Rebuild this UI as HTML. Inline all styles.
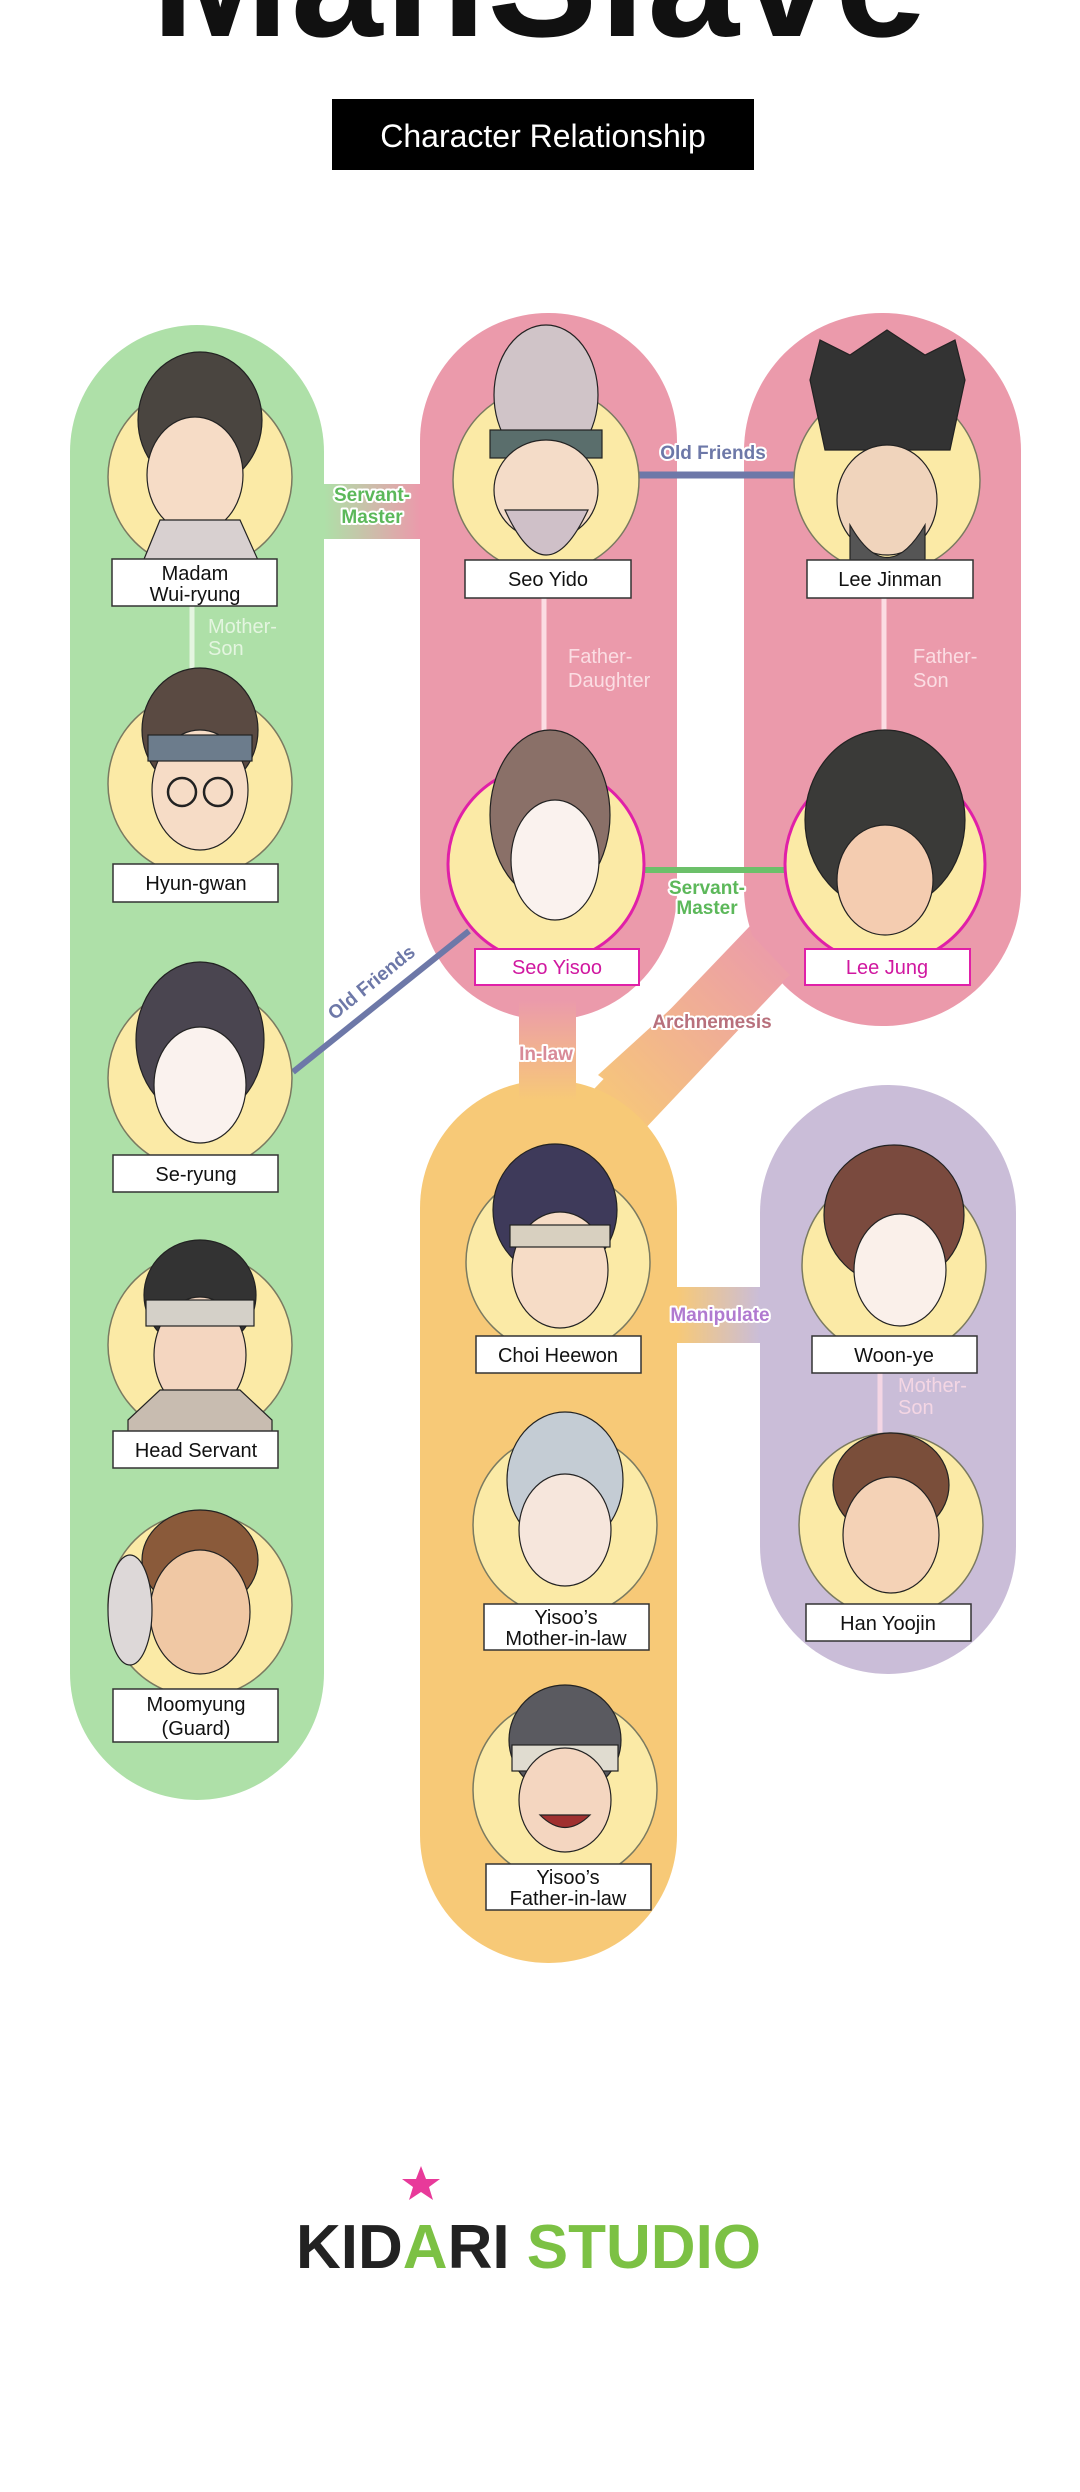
<!DOCTYPE html>
<html><head><meta charset="utf-8"><style>
html,body{margin:0;padding:0;background:#fff;width:1080px;height:2492px;overflow:hidden}
svg{display:block}
.t{font-family:"Liberation Sans",sans-serif}
.lb{font-family:"Liberation Sans",sans-serif;font-size:20px;fill:#111;text-anchor:middle}
.rel{font-family:"Liberation Sans",sans-serif;font-size:19px;font-weight:bold;text-anchor:middle;paint-order:stroke;stroke:#fff;stroke-width:4px;stroke-linejoin:round}
.pale{font-family:"Liberation Sans",sans-serif;font-size:20px}
</style></head><body>
<svg width="1080" height="2492" viewBox="0 0 1080 2492" xmlns="http://www.w3.org/2000/svg">
<defs>
<linearGradient id="gp" x1="0" x2="1"><stop offset="0" stop-color="#aee0a8"/><stop offset="1" stop-color="#eb9aab"/></linearGradient>
<linearGradient id="op" x1="0" x2="1"><stop offset="0" stop-color="#f7c977"/><stop offset="1" stop-color="#cabdd8"/></linearGradient>
<linearGradient id="po" x1="0" y1="0" x2="0" y2="1"><stop offset="0" stop-color="#eb9aab"/><stop offset="1" stop-color="#f7c977"/></linearGradient>
<linearGradient id="arch" gradientUnits="userSpaceOnUse" x1="780" y1="940" x2="600" y2="1120"><stop offset="0" stop-color="#eb9aab"/><stop offset="1" stop-color="#f7c977"/></linearGradient>
</defs>

<!-- title -->
<text x="540" y="36" class="t" font-size="165" font-weight="bold" text-anchor="middle" fill="#111" letter-spacing="2">ManSlave</text>
<rect x="332" y="99" width="422" height="71" fill="#000"/>
<text x="543" y="147" class="t" font-size="32" fill="#fff" text-anchor="middle">Character Relationship</text>

<!-- connectors under capsules -->
<polygon points="770,905 812,952 625,1150 572,1112" fill="url(#arch)"/>
<rect x="519" y="990" width="57" height="110" fill="url(#po)"/>
<rect x="300" y="484" width="140" height="55" fill="url(#gp)"/>
<rect x="660" y="1287" width="120" height="56" fill="url(#op)"/>

<!-- capsules -->
<rect x="70" y="325" width="254" height="1475" rx="127" fill="#aee0a8"/>
<rect x="420" y="313" width="257" height="707" rx="128" fill="#eb9aab"/>
<rect x="744" y="313" width="277" height="713" rx="138" fill="#eb9aab"/>
<rect x="420" y="1080" width="257" height="883" rx="128" fill="#f7c977"/>
<rect x="760" y="1085" width="256" height="589" rx="128" fill="#cabdd8"/>
<rect x="519" y="1000" width="57" height="100" fill="url(#po)"/>
<polygon points="752,935 790,975 640,1105 598,1075" fill="url(#arch)"/>
<rect x="677" y="1287" width="83" height="56" fill="url(#op)"/>
<rect x="324" y="484" width="96" height="55" fill="url(#gp)"/>

<!-- relation lines -->
<line x1="192" y1="606" x2="192" y2="700" stroke="#e4f5e0" stroke-width="5"/>
<line x1="544" y1="598" x2="544" y2="770" stroke="#fbdde3" stroke-width="5"/>
<line x1="884" y1="598" x2="884" y2="770" stroke="#fbdde3" stroke-width="5"/>
<line x1="880" y1="1373" x2="880" y2="1440" stroke="#f4d6e4" stroke-width="5"/>
<line x1="630" y1="475" x2="800" y2="475" stroke="#6d78a8" stroke-width="7"/>
<line x1="645" y1="870" x2="790" y2="870" stroke="#6cc06a" stroke-width="6"/>
<line x1="293" y1="1072" x2="469" y2="931" stroke="#6d78a8" stroke-width="6"/>

<!-- portraits -->
<g stroke="#7a7a60" stroke-width="1.5">
 <circle cx="200" cy="477" r="92" fill="#fbeaa6"/>
 <circle cx="200" cy="784" r="92" fill="#fbeaa6"/>
 <circle cx="200" cy="1078" r="92" fill="#fbeaa6"/>
 <circle cx="200" cy="1345" r="92" fill="#fbeaa6"/>
 <circle cx="200" cy="1605" r="92" fill="#fbeaa6"/>
 <circle cx="546" cy="480" r="93" fill="#fbeaa6"/>
 <circle cx="887" cy="480" r="93" fill="#fbeaa6"/>
 <circle cx="558" cy="1262" r="92" fill="#fbeaa6"/>
 <circle cx="565" cy="1525" r="92" fill="#fbeaa6"/>
 <circle cx="565" cy="1790" r="92" fill="#fbeaa6"/>
 <circle cx="894" cy="1265" r="92" fill="#fbeaa6"/>
 <circle cx="891" cy="1525" r="92" fill="#fbeaa6"/>
</g>
<circle cx="546" cy="864" r="98" fill="#fbeaa6" stroke="#e020a8" stroke-width="3"/>
<circle cx="885" cy="864" r="100" fill="#fbeaa6" stroke="#e020a8" stroke-width="3"/>

<g stroke="#222" stroke-width="1.2">
 <ellipse cx="200" cy="420" rx="62" ry="68" fill="#4a4540"/>
 <ellipse cx="195" cy="475" rx="48" ry="58" fill="#f6dcc6"/>
 <path d="M140 569 L160 520 L240 520 L262 569 Z" fill="#d8d0d0"/>
 <ellipse cx="200" cy="730" rx="58" ry="62" fill="#5a4a42"/>
 <ellipse cx="200" cy="790" rx="48" ry="60" fill="#f6dcc6"/>
 <rect x="148" y="735" width="104" height="26" fill="#6c7c8c"/>
 <circle cx="182" cy="792" r="14" fill="none" stroke-width="2.5"/><circle cx="218" cy="792" r="14" fill="none" stroke-width="2.5"/>
 <ellipse cx="200" cy="1040" rx="64" ry="78" fill="#4a4550"/>
 <ellipse cx="200" cy="1085" rx="46" ry="58" fill="#faf2ee"/>
 <ellipse cx="200" cy="1295" rx="56" ry="55" fill="#333"/>
 <ellipse cx="200" cy="1355" rx="46" ry="58" fill="#f4d6c0"/>
 <rect x="146" y="1300" width="108" height="26" fill="#d4d0c8"/>
 <path d="M128 1420 L160 1390 L240 1390 L272 1420 L272 1437 L128 1437 Z" fill="#c8bcb0"/>
 <ellipse cx="200" cy="1560" rx="58" ry="50" fill="#8a5a3a"/>
 <ellipse cx="200" cy="1612" rx="50" ry="62" fill="#f0c8a4"/>
 <ellipse cx="130" cy="1610" rx="22" ry="55" fill="#ddd8d8"/>
 <ellipse cx="546" cy="395" rx="52" ry="70" fill="#d0c4c8"/>
 <rect x="490" y="430" width="112" height="28" fill="#5a6e6c"/>
 <ellipse cx="546" cy="490" rx="52" ry="50" fill="#f4dcc8"/>
 <path d="M505 510 Q546 600 588 510 Z" fill="#cfc0c8"/>
 <path d="M810 380 L820 340 L850 355 L887 330 L925 355 L955 340 L965 380 L950 450 L825 450 Z" fill="#333"/>
 <ellipse cx="887" cy="500" rx="50" ry="55" fill="#f0d4bc"/>
 <path d="M850 525 Q887 590 925 525 L925 560 L850 560 Z" fill="#555"/>
 <ellipse cx="550" cy="815" rx="60" ry="85" fill="#8a7068"/>
 <ellipse cx="555" cy="860" rx="44" ry="60" fill="#faf2ee"/>
 <ellipse cx="885" cy="820" rx="80" ry="90" fill="#3a3a38"/>
 <ellipse cx="885" cy="880" rx="48" ry="55" fill="#f4ccb0"/>
 <ellipse cx="555" cy="1210" rx="62" ry="66" fill="#3e3a5a"/>
 <ellipse cx="560" cy="1270" rx="48" ry="58" fill="#f6dcc6"/>
 <rect x="510" y="1225" width="100" height="22" fill="#d8d0c0"/>
 <ellipse cx="565" cy="1480" rx="58" ry="68" fill="#c4ccd4"/>
 <ellipse cx="565" cy="1530" rx="46" ry="56" fill="#f6e6dc"/>
 <ellipse cx="565" cy="1740" rx="56" ry="55" fill="#5a5a60"/>
 <rect x="512" y="1745" width="106" height="26" fill="#e0dcd0"/>
 <ellipse cx="565" cy="1800" rx="46" ry="52" fill="#f4d6c0"/>
 <path d="M540 1815 Q565 1840 590 1815 Z" fill="#a03030"/>
 <ellipse cx="894" cy="1215" rx="70" ry="70" fill="#7a4a3e"/>
 <ellipse cx="900" cy="1270" rx="46" ry="56" fill="#faf0ea"/>
 <ellipse cx="891" cy="1485" rx="58" ry="52" fill="#7a4e3a"/>
 <ellipse cx="891" cy="1535" rx="48" ry="58" fill="#f4d2b6"/>
</g>

<!-- name labels -->
<g fill="#fff" stroke="#333" stroke-width="1.5">
 <rect x="112" y="559" width="165" height="47"/>
 <rect x="113" y="864" width="165" height="38"/>
 <rect x="113" y="1155" width="165" height="37"/>
 <rect x="113" y="1431" width="165" height="37"/>
 <rect x="113" y="1689" width="165" height="53"/>
 <rect x="465" y="560" width="166" height="38"/>
 <rect x="807" y="560" width="166" height="38"/>
 <rect x="476" y="1336" width="165" height="37"/>
 <rect x="484" y="1604" width="165" height="46"/>
 <rect x="486" y="1864" width="165" height="46"/>
 <rect x="812" y="1336" width="165" height="37"/>
 <rect x="806" y="1604" width="165" height="37"/>
</g>
<g fill="#fff" stroke="#e020a8" stroke-width="2">
 <rect x="475" y="949" width="164" height="36"/>
 <rect x="805" y="949" width="165" height="36"/>
</g>
<g class="lb">
 <text x="195" y="580">Madam</text><text x="195" y="601">Wui-ryung</text>
 <text x="196" y="890">Hyun-gwan</text>
 <text x="196" y="1181">Se-ryung</text>
 <text x="196" y="1457">Head Servant</text>
 <text x="196" y="1711">Moomyung</text><text x="196" y="1735">(Guard)</text>
 <text x="548" y="586">Seo Yido</text>
 <text x="890" y="586">Lee Jinman</text>
 <text x="558" y="1362">Choi Heewon</text>
 <text x="566" y="1624">Yisoo’s</text><text x="566" y="1645">Mother-in-law</text>
 <text x="568" y="1884">Yisoo’s</text><text x="568" y="1905">Father-in-law</text>
 <text x="894" y="1362">Woon-ye</text>
 <text x="888" y="1630">Han Yoojin</text>
 <text x="557" y="974" fill="#d018a0">Seo Yisoo</text>
 <text x="887" y="974" fill="#d018a0">Lee Jung</text>
</g>

<!-- relation labels -->
<g class="rel">
 <text x="372" y="501" fill="#5cb85a">Servant-</text><text x="372" y="523" fill="#5cb85a">Master</text>
 <text x="713" y="459" fill="#6d78a8">Old Friends</text>
 <text x="707" y="894" fill="#5cb85a">Servant-</text><text x="707" y="914" fill="#5cb85a">Master</text>
 <text x="712" y="1028" fill="#b8707c">Archnemesis</text>
 <text x="546" y="1060" fill="#d88a98">In-law</text>
 <text x="720" y="1321" fill="#b07ad0">Manipulate</text>
 <text x="371" y="989" fill="#6d78a8" transform="rotate(-39 371 982)">Old Friends</text>
</g>
<g class="pale">
 <text x="208" y="633" fill="#e4f5e0">Mother-</text><text x="208" y="655" fill="#e4f5e0">Son</text>
 <text x="568" y="663" fill="#fbdde3">Father-</text><text x="568" y="687" fill="#fbdde3">Daughter</text>
 <text x="913" y="663" fill="#fbdde3">Father-</text><text x="913" y="687" fill="#fbdde3">Son</text>
 <text x="898" y="1392" fill="#f4d6e4">Mother-</text><text x="898" y="1414" fill="#f4d6e4">Son</text>
</g>

<!-- logo -->
<polygon points="421,2166 426,2179 440,2179 429,2187 433,2200 421,2192 409,2200 413,2187 402,2179 416,2179" fill="#e83a9a"/>
<text x="296" y="2268" class="t" font-size="62" font-weight="bold" fill="#222">KID<tspan fill="#7cc144">A</tspan>RI <tspan fill="#7cc144">STUDIO</tspan></text>
</svg>
</body></html>
